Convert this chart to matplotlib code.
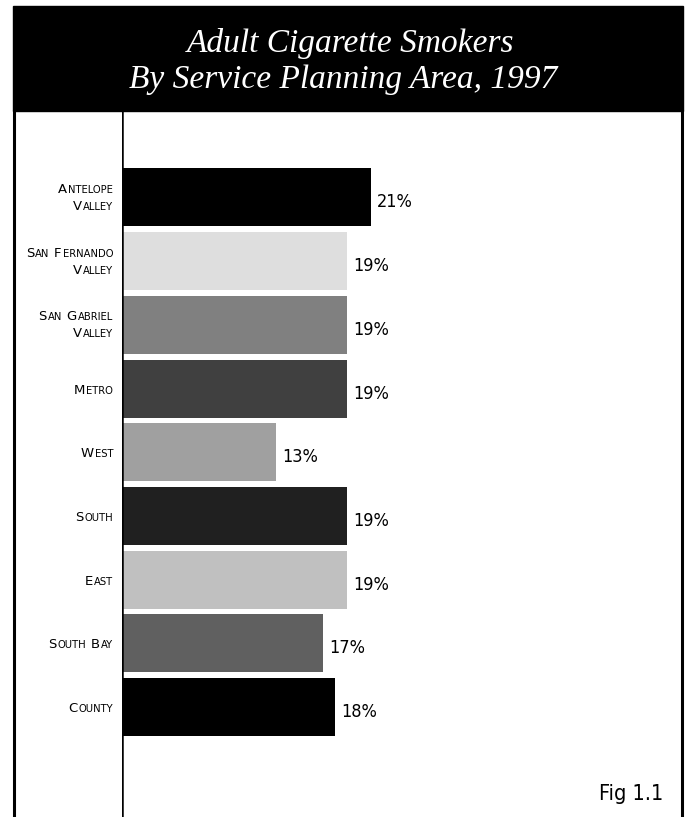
import matplotlib
matplotlib.use("Agg")
import matplotlib.pyplot as plt
from matplotlib.patches import Rectangle

# smoking prevalence by service planning area, 1997
areas = ["Antelope Valley", "San Fernando Valley", "San Gabriel Valley", "Metro",
         "West", "South", "East", "South Bay", "County"]
label_lines = [["Antelope", "Valley"], ["San Fernando", "Valley"], ["San Gabriel", "Valley"],
               ["Metro"], ["West"], ["South"], ["East"], ["South Bay"], ["County"]]
smokers_pct = [21, 19, 19, 19, 13, 19, 19, 17, 18]
bar_colors = ["#000000", "#dedede", "#808080", "#404040", "#a0a0a0",
              "#202020", "#c0c0c0", "#606060", "#000000"]
title_lines = ["Adult Cigarette Smokers", "By Service Planning Area, 1997"]
fig_label = "Fig 1.1"

W, H = 686, 817
fig = plt.figure(figsize=(W / 100, H / 100), dpi=100)
fig.patch.set_facecolor("white")


def fx(x):
    return x / W


def fy(y):
    return 1 - y / H


# black title band and the frame lines running down the page
fig.patches.append(Rectangle((fx(13), fy(111)), fx(683) - fx(13), fy(6) - fy(111),
                             transform=fig.transFigure, color="black", zorder=0))
for xline in (14, 682):
    fig.add_artist(plt.Line2D([fx(xline), fx(xline)], [fy(111), 0], color="black",
                              lw=2.2, transform=fig.transFigure))

title_font = dict(family=["Liberation Serif", "DejaVu Serif"], style="italic",
                  color="white", fontsize=24, ha="center", va="baseline")
fig.text(fx(351), fy(52), title_lines[0], **title_font)
fig.text(fx(343), fy(88), title_lines[1], **title_font)

# bar area
px_per_pct = 11.85
pitch = 63.7
first_center = 197.5
ax_left, ax_right, ax_top = 122, 682, 111
ax = fig.add_axes([fx(ax_left), 0, fx(ax_right) - fx(ax_left), fy(ax_top)])
ax.set_xlim(0, (ax_right - ax_left) / px_per_pct)
n = len(areas)
ax.set_ylim((H - first_center) / pitch, -(first_center - ax_top) / pitch)
ax.axis("off")
ax.add_line(plt.Line2D([0, 0], [0, 1], color="black", lw=1.8, transform=ax.transAxes))

cond = dict(family=["DejaVu Sans"], fontstretch="condensed")

ypos = list(range(n))
ax.barh(ypos, smokers_pct, height=58 / pitch, color=bar_colors)
for i, v in enumerate(smokers_pct):
    ax.text(v + 6 / px_per_pct, i + 5 / pitch, f"{v}%", va="center", ha="left",
            fontsize=13, **cond)

# small-caps category labels, built piece by piece from the right
renderer = fig.canvas.get_renderer()
big_size, small_size = 9.5, 7.2


def small_caps_line(x_right, y_base, line):
    pieces = []  # (text, size, gap to the piece on its left)
    for word in line.split(" "):
        pieces.append((word[0], big_size, 4.5))
        if len(word) > 1:
            pieces.append((word[1:].upper(), small_size, 1.0))
    x = x_right
    for s, size, gap in reversed(pieces):
        t = fig.text(fx(x), fy(y_base), s, fontsize=size, ha="right",
                     va="baseline", color="black", family="DejaVu Sans")
        x -= t.get_window_extent(renderer).width + gap


for i, lines in enumerate(label_lines):
    c = first_center + pitch * i
    if len(lines) == 1:
        small_caps_line(113, c + 5, lines[0])
    else:
        small_caps_line(113, c - 4.5, lines[0])
        small_caps_line(113, c + 12.5, lines[1])

fig.text(fx(663), fy(800), fig_label, fontsize=15.5, ha="right", va="baseline", **cond)

fig.savefig("out.png", dpi=100)
